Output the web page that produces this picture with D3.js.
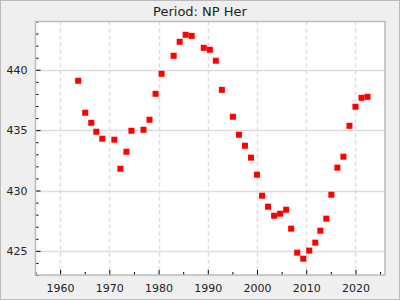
<!DOCTYPE html>
<html>
<head>
<meta charset="utf-8">
<script src="https://cdn.jsdelivr.net/npm/d3@7"></script>
<style>
  body { margin: 0; background: #efefef; }
  svg { display: block; }
</style>
</head>
<body>
<div id="chart"></div>
<script>
// values
var years = [1963.67, 1965.10, 1966.33, 1967.35, 1968.57, 1971.02, 1972.24, 1973.47, 1974.49, 1976.94,
  1978.16, 1979.39, 1980.61, 1983.06, 1984.29, 1985.51, 1986.73, 1989.18, 1990.41, 1991.63,
  1992.86, 1995.10, 1996.33, 1997.55, 1998.78, 2000.00, 2001.02, 2002.24, 2003.47, 2004.69,
  2005.92, 2006.94, 2008.16, 2009.39, 2010.61, 2011.84, 2012.86, 2014.08, 2015.10, 2016.33,
  2017.55, 2018.78, 2020.00, 2021.22, 2022.45];
var periods = [439.09, 436.44, 435.61, 434.87, 434.29, 434.21, 431.80, 433.21, 434.95, 435.03,
  435.86, 438.01, 439.67, 441.16, 442.32, 442.90, 442.81, 441.82, 441.66, 440.75,
  438.34, 436.11, 434.62, 433.71, 432.72, 431.31, 429.57, 428.66, 427.91, 428.08,
  428.41, 426.84, 424.85, 424.35, 425.02, 425.68, 426.67, 427.67, 429.65, 431.89,
  432.80, 435.36, 436.94, 437.68, 437.76];
var xTicks = [1960, 1970, 1980, 1990, 2000, 2010, 2020];
var xMinor = [1955, 1965, 1975, 1985, 1995, 2005, 2015, 2025];
var yTicks = [425, 430, 435, 440];
var yMinor = d3.range(423, 445);
var title = 'Period: NP Her';

var width = 400, height = 300;
var margin = { top: 21.5, right: 15, bottom: 25, left: 35.5 };
var inkColor = '#222';
var gridColor = '#dddddd';
var frameColor = '#bbbbbb';

var svg = d3.select('#chart').append('svg')
  .attr('width', width)
  .attr('height', height);

svg.append('rect')
  .attr('x', 0.5).attr('y', 0.5)
  .attr('width', width - 1).attr('height', height - 1)
  .attr('fill', '#efefef')
  .attr('stroke', frameColor);

var x = d3.scaleLinear().domain([1955, 2026]).range([margin.left, width - margin.right]);
var y = d3.scaleLinear().domain([423, 444]).range([height - margin.bottom, margin.top]);

svg.append('rect')
  .attr('x', margin.left).attr('y', margin.top)
  .attr('width', width - margin.left - margin.right)
  .attr('height', height - margin.top - margin.bottom)
  .attr('fill', 'white');

// grid
svg.append('g').selectAll('line')
  .data(yTicks).enter().append('line')
  .attr('x1', margin.left).attr('x2', width - margin.right)
  .attr('y1', function(d) { return Math.round(y(d)) + 0.5; })
  .attr('y2', function(d) { return Math.round(y(d)) + 0.5; })
  .attr('stroke', gridColor).attr('stroke-width', 1.5);

svg.append('g').selectAll('line')
  .data(xTicks).enter().append('line')
  .attr('y1', margin.top).attr('y2', height - margin.bottom)
  .attr('x1', function(d) { return Math.round(x(d)) + 0.5; })
  .attr('x2', function(d) { return Math.round(x(d)) + 0.5; })
  .attr('stroke', gridColor).attr('stroke-width', 1.5)
  .attr('stroke-dasharray', '4,3');

// axes with inward ticks
var yAxis = svg.append('g')
  .attr('transform', 'translate(' + margin.left + ',0)')
  .call(d3.axisLeft(y).tickValues(yTicks).tickSize(-5).tickPadding(8));
svg.append('g')
  .attr('transform', 'translate(' + margin.left + ',0)')
  .call(d3.axisLeft(y).tickValues(yMinor.filter(function(d) { return yTicks.indexOf(d) < 0; }))
    .tickSize(-3).tickFormat(''));

var xAxis = svg.append('g')
  .attr('transform', 'translate(0,' + (height - margin.bottom) + ')')
  .call(d3.axisBottom(x).tickValues(xTicks).tickSize(-5).tickPadding(9).tickFormat(d3.format('d')));
svg.append('g')
  .attr('transform', 'translate(0,' + (height - margin.bottom) + ')')
  .call(d3.axisBottom(x).tickValues(xMinor).tickSize(-3).tickFormat(''));

svg.selectAll('.domain').remove();
svg.selectAll('.tick line').attr('stroke', '#000');
svg.selectAll('.tick text')
  .attr('fill', inkColor)
  .attr('font-family', 'DejaVu Sans')
  .attr('font-size', '11px');

// plot frame
svg.append('rect')
  .attr('x', margin.left).attr('y', margin.top)
  .attr('width', width - margin.left - margin.right)
  .attr('height', height - margin.top - margin.bottom)
  .attr('fill', 'none')
  .attr('stroke', frameColor).attr('stroke-width', 1.5);

// points
var pts = years.map(function(d, i) { return { x: d, y: periods[i] }; });
svg.append('g').selectAll('rect')
  .data(pts).enter().append('rect')
  .attr('x', function(d) { return x(d.x) - 3; })
  .attr('y', function(d) { return y(d.y) - 3; })
  .attr('width', 6).attr('height', 6)
  .attr('fill', '#ff0000');

svg.append('text')
  .attr('x', width / 2).attr('y', 16)
  .attr('text-anchor', 'middle')
  .attr('font-family', 'DejaVu Sans')
  .attr('font-size', '13px')
  .attr('fill', inkColor)
  .text(title);
</script>
</body>
</html>
